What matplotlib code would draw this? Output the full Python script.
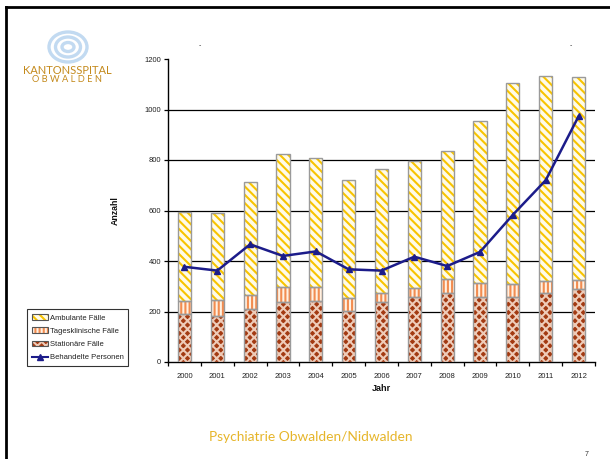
import matplotlib
matplotlib.use("Agg")
import matplotlib.pyplot as plt
from matplotlib.patches import Patch, Ellipse
from matplotlib.lines import Line2D
import numpy as np

years = ["2000", "2001", "2002", "2003", "2004", "2005", "2006",
         "2007", "2008", "2009", "2010", "2011", "2012"]
stationaer = [189, 181, 209, 236, 240, 201, 236, 256, 272, 259, 256, 272, 288]
tagesklinisch = [51, 63, 55, 60, 56, 51, 36, 37, 57, 54, 53, 48, 37]
ambulant = [353, 346, 447, 526, 510, 469, 491, 503, 505, 640, 794, 811, 802]
personen = [377, 362, 466, 420, 438, 367, 362, 417, 380, 436, 583, 720, 973]

plt.rcParams['font.family'] = ['Liberation Sans', 'DejaVu Sans']
plt.rcParams['hatch.linewidth'] = 1.5

fig = plt.figure(figsize=(6.10, 4.59), dpi=100)
ax = fig.add_axes([168/610, 1-362/459, 427/610, 303/459])

x = np.arange(len(years))
w = 0.4
edge = '#9a9a9a'

stat = np.array(stationaer)
tag = np.array(tagesklinisch)
amb = np.array(ambulant)

c_stat_face, c_stat_hatch = '#a33a12', '#eecbb8'
c_tag_face, c_tag_hatch = '#fff1e2', '#f28c50'
c_amb_face, c_amb_hatch = '#fffbe8', '#f8c400'

# Stationäre
ax.bar(x, stat, w, color=c_stat_face, hatch='xxxx', edgecolor=c_stat_hatch, linewidth=0, zorder=3)
ax.bar(x, stat, w, fill=False, edgecolor=edge, linewidth=1.0, zorder=4)
# Tagesklinische
ax.bar(x, tag, w, bottom=stat, color=c_tag_face, hatch='||||', edgecolor=c_tag_hatch, linewidth=0, zorder=3)
ax.bar(x, tag, w, bottom=stat, fill=False, edgecolor=edge, linewidth=1.0, zorder=4)
# Ambulante
ax.bar(x, amb, w, bottom=stat+tag, color=c_amb_face, hatch='\\\\\\\\', edgecolor=c_amb_hatch, linewidth=0, zorder=3)
ax.bar(x, amb, w, bottom=stat+tag, fill=False, edgecolor=edge, linewidth=1.0, zorder=4)

ax.plot(x, personen, color='#1c1c8a', linewidth=1.8, marker='^', markersize=5,
        markerfacecolor='#1c1c8a', markeredgecolor='#1c1c8a', zorder=5)

ax.set_xlim(-0.5, len(years)-0.5)
ax.set_ylim(0, 1200)
ax.set_yticks(np.arange(0, 1201, 200))
ax.set_yticklabels([str(v) for v in range(0, 1201, 200)])
for v in range(200, 1001, 200):
    ax.axhline(v, color='black', linewidth=0.9, zorder=1)

ax.set_xticks(x)
ax.set_xticklabels(years)
ax.set_xticks(np.arange(-0.5, len(years)), minor=True)
ax.tick_params(axis='x', which='major', length=0, labelsize=5.5, pad=8, colors='#222222')
ax.tick_params(axis='x', which='minor', length=3, width=0.9, direction='out')
ax.tick_params(axis='y', length=3, width=0.9, labelsize=5.5, pad=2, colors='#222222')
ax.tick_params(axis='both', color='black')

for s in ['top', 'right']:
    ax.spines[s].set_visible(False)
for s in ['left', 'bottom']:
    ax.spines[s].set_linewidth(1.0)

ax.set_xlabel('Jahr', fontsize=6.5, fontweight='bold', labelpad=3, color='#111111')
ax.set_ylabel('Anzahl', fontsize=6.3, fontweight='bold', labelpad=18, color='#111111')

# Legend
h_amb = (Patch(facecolor=c_amb_face, hatch='\\\\\\\\', edgecolor=c_amb_hatch, linewidth=0),
         Patch(fill=False, edgecolor='#555555', linewidth=0.8))
h_tag = (Patch(facecolor=c_tag_face, hatch='||||', edgecolor=c_tag_hatch, linewidth=0),
         Patch(fill=False, edgecolor='#555555', linewidth=0.8))
h_stat = (Patch(facecolor=c_stat_face, hatch='xxxx', edgecolor=c_stat_hatch, linewidth=0),
          Patch(fill=False, edgecolor='#555555', linewidth=0.8))
h_pers = Line2D([], [], color='#1c1c8a', linewidth=1.5, marker='^', markersize=4)
leg = fig.legend([h_amb, h_tag, h_stat, h_pers],
                 ['Ambulante Fälle', 'Tagesklinische Fälle', 'Stationäre Fälle', 'Behandelte Personen'],
                 loc='lower left', bbox_to_anchor=(27/610, 1-366/459),
                 fontsize=5.5, frameon=True, fancybox=False, edgecolor='black',
                 handlelength=2.2, handleheight=0.8, handletextpad=0.2,
                 labelspacing=0.75, borderpad=0.6, borderaxespad=0)
leg.get_frame().set_linewidth(0.8)
for t in leg.get_texts():
    t.set_color('#222222')

# Slide border
fig.add_artist(Line2D([6/610, 1], [1-7/459, 1-7/459], color='black', linewidth=2, transform=fig.transFigure))
fig.add_artist(Line2D([6/610, 6/610], [0, 1-7/459], color='black', linewidth=2, transform=fig.transFigure))

# Logo
cx, cy = 68/610, 1-47/459
for rx, ry in [(19, 15), (12.5, 10), (6, 4.5)]:
    fig.add_artist(Ellipse((cx, cy), 2*rx/610, 2*ry/459, fill=False,
                           edgecolor='#c2daf1', linewidth=2.4, transform=fig.transFigure))
fig.text(67.5/610, 1-70.5/459, 'KANTONSSPITAL', fontsize=8, color='#c48a1c',
         family=['Lato', 'DejaVu Sans'], ha='center', va='center')
fig.text(67.5/610, 1-79/459, 'O B W A L D E N', fontsize=6.7, color='#c48a1c',
         family=['Lato', 'DejaVu Sans'], ha='center', va='center')

# small marks
fig.text(200/610, 1-46/459, '-', fontsize=5, color='#333333', ha='center', va='center')
fig.text(571/610, 1-46/459, '-', fontsize=5, color='#333333', ha='center', va='center')

# Footer
fig.text(209/610, 1-437/459, 'Psychiatrie Obwalden/Nidwalden', fontsize=9.9,
         family=['Lato', 'DejaVu Sans'], color='#e6b52a',
         ha='left', va='center')
fig.text(587/610, 1-455/459, '7', fontsize=5, color='#333333', ha='center', va='center')

fig.savefig('out.png', dpi=100)
